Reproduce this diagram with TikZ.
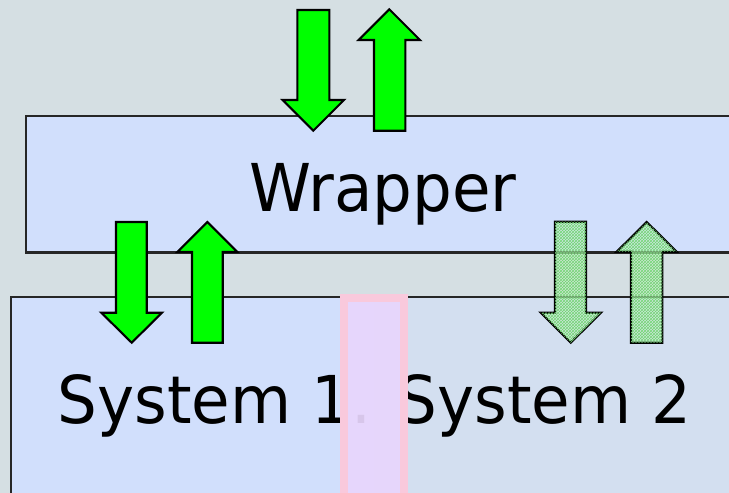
\documentclass[tikz,border=0pt]{standalone}
\usepackage{fontspec}
\newfontfamily\labelfont[FakeStretch=0.95]{DejaVu Sans}
\usetikzlibrary{patterns}

\definecolor{bgcol}{HTML}{D5DFE3}
\definecolor{boxcol}{HTML}{D1DFFC}
\definecolor{boxtwo}{HTML}{D3DFF0}
\definecolor{barrim}{HTML}{F9C9DC}
\definecolor{barfill}{HTML}{E8D6FC}
\definecolor{flowgreen}{HTML}{00FF00}
\definecolor{paleflow}{HTML}{C4F2C4}

\tikzset{
  panel/.style={draw=black!85, line width=2.1pt},
  flow/.style={draw=black, line width=2.1pt, fill=flowgreen, line join=miter},
  paleflowstyle/.style={draw=black, line width=2.1pt, line join=miter,
    fill=paleflow, fill opacity=0.5,
    postaction={pattern=crosshatch, pattern color=green!70!black!55}},
  biglabel/.style={inner sep=0pt, font=\labelfont\fontsize{66}{70}\selectfont}
}

\begin{document}
\begin{tikzpicture}[x=1pt,y=-1pt]
  % canvas
  \fill[bgcol] (0,0) rectangle (729,493);
  \useasboundingbox (0,0) rectangle (729,493);

  % wrapper layer
  \filldraw[panel, fill=boxcol] (26,116) rectangle (745,252.5);
  \node[biglabel, anchor=base] (wrap) at (383,211.5) {Wrapper};

  % system layer
  \fill[boxcol] (11,297) rectangle (374,510);
  \fill[boxtwo] (374,297) rectangle (745,510);
  \draw[panel] (11,510) -- (11,297) -- (745,297);
  \node[biglabel, anchor=base west] (sys) at (57.5,423) {System 1. System 2};

  % calls between outside and wrapper
  \draw[flow] (297.3,10) -- (329.3,10) -- (329.3,100) -- (344,100) -- (313.3,130.7)
    -- (282.7,100) -- (297.3,100) -- cycle;
  \draw[flow] (389.3,9.3) -- (420,40) -- (405.3,40) -- (405.3,130.7) -- (374,130.7)
    -- (374,40) -- (358.7,40) -- cycle;

  % calls between wrapper and system 1
  \draw[flow] (116,222) -- (146.7,222) -- (146.7,312.7) -- (162,312.7) -- (131.7,342.7)
    -- (101.3,312.7) -- (116,312.7) -- cycle;
  \draw[flow] (207.3,222) -- (237.3,252) -- (222.7,252) -- (222.7,342.7) -- (192,342.7)
    -- (192,252) -- (177.3,252) -- cycle;

  % calls between wrapper and system 2
  \path[paleflowstyle] (555,221.7) -- (586,221.7) -- (586,312.7) -- (601,312.7) -- (570.7,342.7)
    -- (540.7,312.7) -- (555,312.7) -- cycle;
  \path[paleflowstyle] (646.7,222) -- (676.7,251.7) -- (662.3,251.7) -- (662.3,342.7)
    -- (631,342.7) -- (631,251.7) -- (616.7,251.7) -- cycle;

  % boundary strip between the two systems
  \fill[barfill, fill opacity=0.93] (344,298) rectangle (404.2,510);
  \draw[barrim, line width=8pt] (344,510) -- (344,298) -- (404.2,298) -- (404.2,510);
\end{tikzpicture}
\end{document}
